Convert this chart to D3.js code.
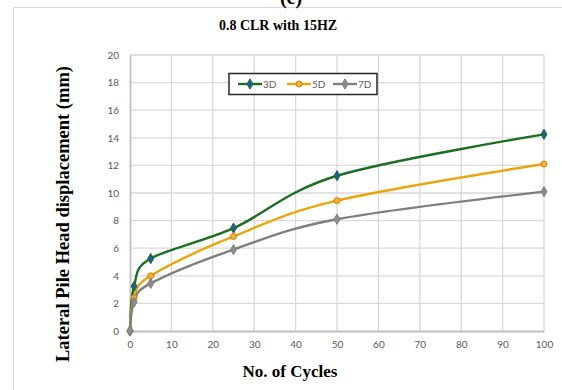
<!DOCTYPE html>
<meta charset="utf-8">
<script src="https://d3js.org/d3.v7.js"></script>
<style>
  body { margin: 0; background: #fff; }
</style>
<svg id="chart" width="562" height="390"></svg>

<script>
    // data
    var cycles = [0, 1, 5, 25, 50, 100];
    var d3Vals = [0, 3.25, 5.25, 7.45, 11.25, 14.25];
    var d5Vals = [0, 2.4, 4.0, 6.85, 9.45, 12.1];
    var d7Vals = [0, 2.1, 3.45, 5.9, 8.1, 10.1];
    var seriesNames = ["3D", "5D", "7D"];
    var xTicks = [0, 10, 20, 30, 40, 50, 60, 70, 80, 90, 100];
    var yTicks = [0, 2, 4, 6, 8, 10, 12, 14, 16, 18, 20];

    var series = [
        { name: "3D", values: d3Vals, line: "#1a6e1f", fill: "#1f5c99", stroke: "#1a6e1f", shape: d3.symbolDiamond },
        { name: "5D", values: d5Vals, line: "#eba50c", fill: "#f5b23c", stroke: "#e07b00", shape: d3.symbolCircle },
        { name: "7D", values: d7Vals, line: "#7f7f7f", fill: "#8c8c8c", stroke: "#7f7f7f", shape: d3.symbolDiamond }
    ];

    var svg = d3.select("#chart");

    // outer chart frame
    svg.append("rect")
        .attr("x", 13.5).attr("y", 7.5)
        .attr("width", 600).attr("height", 400)
        .attr("fill", "none").attr("stroke", "#d9d9d9");

    // panel letter, cut by the top edge as in the reference
    svg.append("text")
        .attr("x", 291).attr("y", 4)
        .attr("text-anchor", "middle")
        .style("font", "bold 20px 'Liberation Serif'")
        .text("(c)");

    var x = d3.scaleLinear().domain([0, 100]).range([130, 544]);
    var y = d3.scaleLinear().domain([0, 20]).range([331, 55]);

    // grid
    var grid = svg.append("g").attr("stroke", "#d9d9d9").attr("stroke-width", 1.3);
    grid.selectAll(".gx").data(xTicks.slice(1)).enter().append("line")
        .attr("x1", d => x(d)).attr("x2", d => x(d))
        .attr("y1", y(0)).attr("y2", y(20));
    grid.selectAll(".gy").data(yTicks.slice(1)).enter().append("line")
        .attr("x1", x(0)).attr("x2", x(100))
        .attr("y1", d => y(d)).attr("y2", d => y(d));

    // axes
    var xAxis = svg.append("g")
        .attr("transform", "translate(0," + y(0) + ")")
        .call(d3.axisBottom(x).tickValues(xTicks).tickSize(0).tickPadding(10));
    var yAxis = svg.append("g")
        .attr("transform", "translate(" + x(0) + ",0)")
        .call(d3.axisLeft(y).tickValues(yTicks).tickSize(0).tickPadding(11));
    [xAxis, yAxis].forEach(function (a) {
        a.select(".domain").attr("stroke", "#bfbfbf").attr("stroke-width", 1.8);
        a.selectAll("text").attr("fill", "#595959")
            .style("font-family", "Lato, 'Open Sans', sans-serif").style("font-size", "10px");
    });

    // lines (Excel-style smoothing)
    var line = d3.line()
        .x((d, i) => x(cycles[i]))
        .y(d => y(d))
        .curve(d3.curveCardinal.tension(0));

    series.forEach(function (s) {
        svg.append("path")
            .attr("d", line(s.values))
            .attr("fill", "none")
            .attr("stroke", s.line)
            .attr("stroke-width", 2.4);
    });
    series.forEach(function (s) {
        svg.selectAll(null).data(s.values).enter().append("path")
            .attr("transform", (d, i) => "translate(" + x(cycles[i]) + "," + y(d) + ")")
            .attr("d", d3.symbol().type(s.shape).size(s.shape === d3.symbolCircle ? 28 : 30))
            .attr("fill", s.fill)
            .attr("stroke", s.stroke)
            .attr("stroke-width", 1);
    });

    // legend
    var lg = svg.append("g");
    lg.append("rect")
        .attr("x", 229).attr("y", 73.5).attr("width", 148).attr("height", 21)
        .attr("fill", "#fff").attr("stroke", "#262626").attr("stroke-width", 1.5);
    var lx = [238, 287, 333];
    series.forEach(function (s, i) {
        var g = lg.append("g").attr("transform", "translate(" + lx[i] + ",84)");
        g.append("line").attr("x1", 0).attr("x2", 24)
            .attr("stroke", s.line).attr("stroke-width", 2.4);
        g.append("path").attr("transform", "translate(12,0)")
            .attr("d", d3.symbol().type(s.shape).size(s.shape === d3.symbolCircle ? 28 : 30))
            .attr("fill", s.fill).attr("stroke", s.stroke);
        g.append("text").attr("x", 25).attr("y", 4)
            .attr("fill", "#595959")
            .style("font", "10px Lato, 'Open Sans', sans-serif")
            .text(seriesNames[i]);
    });

    // titles
    svg.append("text")
        .attr("x", 278).attr("y", 30)
        .attr("text-anchor", "middle")
        .style("font", "bold 14px 'Liberation Serif'")
        .text("0.8 CLR with 15HZ");

    svg.append("text")
        .attr("x", 290).attr("y", 377)
        .attr("text-anchor", "middle")
        .style("font", "bold 17px 'Liberation Serif'")
        .text("No. of Cycles");

    svg.append("text")
        .attr("transform", "translate(69,214) rotate(-90)")
        .attr("text-anchor", "middle")
        .style("font", "bold 18.5px 'Liberation Serif'")
        .text("Lateral Pile Head displacement (mm)");
</script>
